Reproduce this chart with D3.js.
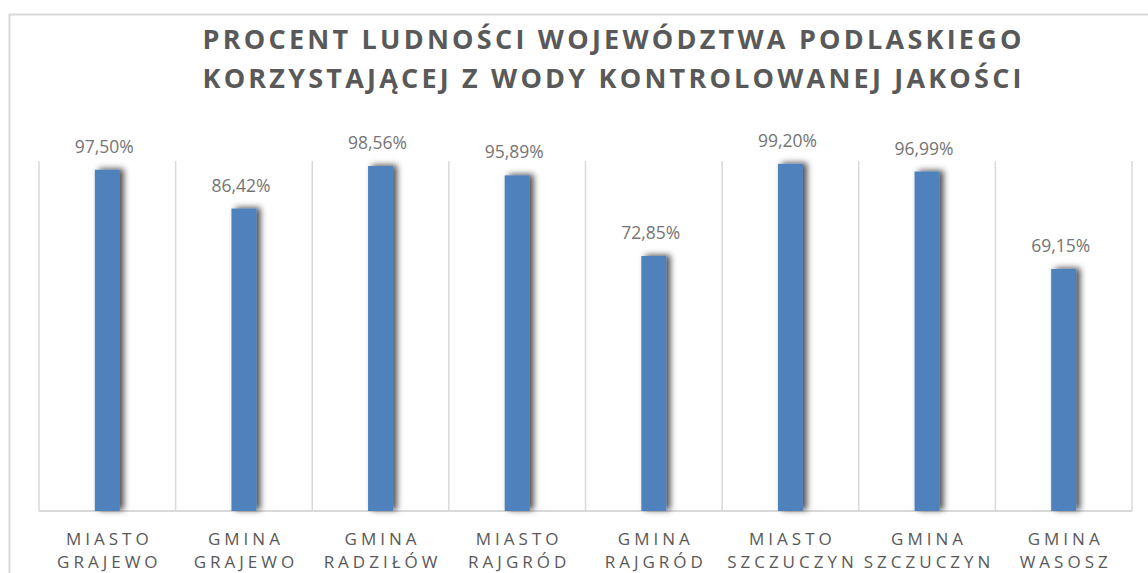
<!DOCTYPE html>
<html>
<head>
<meta charset="utf-8">
<script src="https://cdn.jsdelivr.net/npm/d3@7"></script>
<style>
  body { margin: 0; background: #fff; }
  svg { display: block; }
</style>
</head>
<body>
<svg width="1148" height="573"></svg>
<script>
// dane z wykresu
var linia1 = ["MIASTO", "GMINA", "GMINA", "MIASTO", "GMINA", "MIASTO", "GMINA", "GMINA"];
var linia2 = ["GRAJEWO", "GRAJEWO", "RADZIŁÓW", "RAJGRÓD", "RAJGRÓD", "SZCZUCZYN", "SZCZUCZYN", "WASOSZ"];
var procent = [97.50, 86.42, 98.56, 95.89, 72.85, 99.20, 96.99, 69.15];
var tytul = ["PROCENT LUDNOŚCI WOJEWÓDZTWA PODLASKIEGO",
             "KORZYSTAJĄCEJ Z WODY KONTROLOWANEJ JAKOŚCI"];

var svg = d3.select("svg");
var margin = {top: 161, right: 16, bottom: 62, left: 39},
    width = +svg.attr("width") - margin.left - margin.right,
    height = +svg.attr("height") - margin.top - margin.bottom;

var pl = d3.formatLocale({decimal: ",", thousands: " ", grouping: [3], currency: ["", " zł"]});
var fmt = pl.format(".2f");

// ramka wykresu
svg.append("rect")
    .attr("x", 9.5).attr("y", 14.5)
    .attr("width", 1200).attr("height", 700)
    .attr("fill", "none")
    .attr("stroke", "#d9d9d9")
    .attr("stroke-width", 2);

// cien slupkow
var f = svg.append("defs").append("filter")
    .attr("id", "cien")
    .attr("x", "-80%").attr("y", "-20%")
    .attr("width", "260%").attr("height", "140%");
f.append("feDropShadow")
    .attr("dx", 4).attr("dy", -1)
    .attr("stdDeviation", 3)
    .attr("flood-color", "#000")
    .attr("flood-opacity", 0.7);

svg.selectAll("text.tytul")
    .data(tytul)
  .enter().append("text")
    .attr("class", "tytul")
    .attr("x", 612)
    .attr("y", function(d, i) { return 49 + i * 39; })
    .attr("text-anchor", "middle")
    .attr("textLength", 819)
    .attr("lengthAdjust", "spacing")
    .style("font-family", "'Open Sans', sans-serif")
    .style("font-weight", "bold")
    .style("font-size", "27px")
    .style("fill", "#595959")
    .text(function(d) { return d; });

var g = svg.append("g")
    .attr("transform", "translate(" + margin.left + "," + margin.top + ")");

var x = d3.scaleBand()
    .domain(d3.range(procent.length))
    .range([0, width])
    .paddingInner(0)
    .paddingOuter(0);

var y = d3.scaleLinear()
    .domain([0, 100])
    .range([height, 0]);

// linie siatki (miedzy kategoriami)
g.selectAll("line.siatka")
    .data(d3.range(procent.length + 1))
  .enter().append("line")
    .attr("class", "siatka")
    .attr("x1", function(d) { return d * x.step(); })
    .attr("x2", function(d) { return d * x.step(); })
    .attr("y1", y(100))
    .attr("y2", y(0))
    .attr("stroke", "#d9d9d9")
    .attr("stroke-width", 1.5);

g.append("line")
    .attr("x1", 0).attr("x2", width)
    .attr("y1", y(0)).attr("y2", y(0))
    .attr("stroke", "#d9d9d9")
    .attr("stroke-width", 2);

var bw = 25;

g.selectAll("rect.bar")
    .data(procent)
  .enter().append("rect")
    .attr("class", "bar")
    .attr("x", function(d, i) { return x(i) + x.bandwidth() / 2 - bw / 2; })
    .attr("y", function(d) { return y(d); })
    .attr("width", bw)
    .attr("height", function(d) { return y(0) - y(d); })
    .attr("fill", "#4f81bd")
    .attr("filter", "url(#cien)");

g.selectAll("text.wartosc")
    .data(procent)
  .enter().append("text")
    .attr("class", "wartosc")
    .attr("x", function(d, i) { return x(i) + x.bandwidth() / 2 - 3; })
    .attr("y", function(d) { return y(d) - 17; })
    .attr("text-anchor", "middle")
    .style("font-family", "'Open Sans', sans-serif")
    .style("font-size", "17.5px")
    .style("fill", "#757575")
    .text(function(d) { return fmt(d) + "%"; });

// etykiety kategorii
var et = g.selectAll("text.kat")
    .data(procent)
  .enter().append("text")
    .attr("class", "kat")
    .attr("text-anchor", "middle")
    .style("font-family", "'Open Sans', sans-serif")
    .style("font-size", "17px")
    .style("letter-spacing", "4px")
    .style("fill", "#595959");

et.append("tspan")
    .attr("x", function(d, i) { return x(i) + x.bandwidth() / 2 + 2; })
    .attr("y", height + 34)
    .text(function(d, i) { return linia1[i]; });

et.append("tspan")
    .attr("x", function(d, i) { return x(i) + x.bandwidth() / 2 + 2; })
    .attr("y", height + 57)
    .text(function(d, i) { return linia2[i]; });
</script>
</body>
</html>
